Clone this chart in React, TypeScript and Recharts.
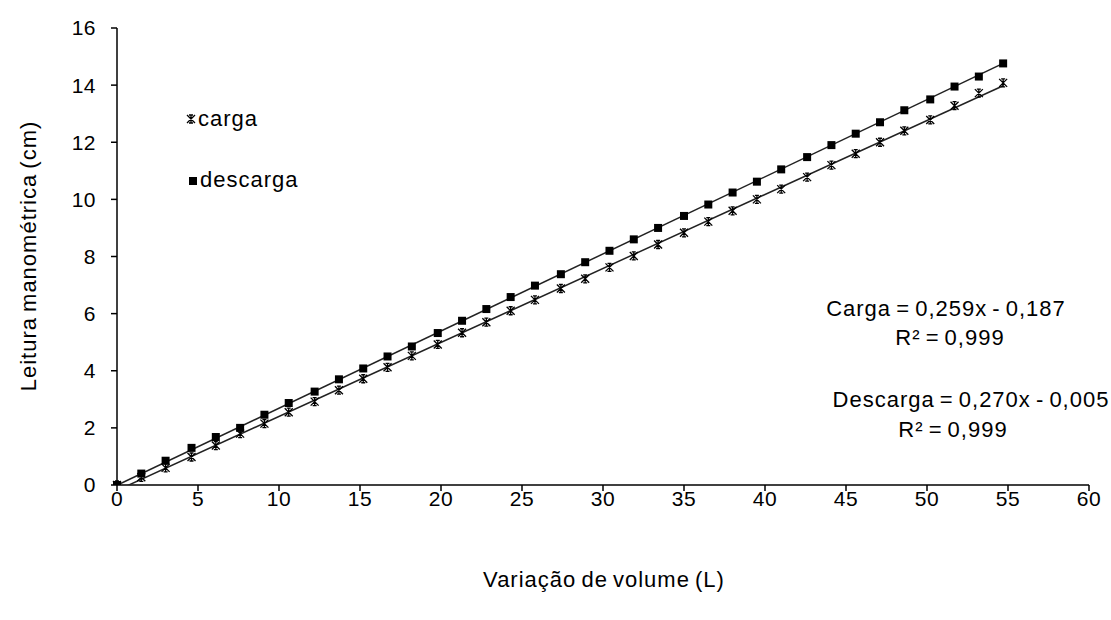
import { ComposedChart, Scatter, XAxis, YAxis } from 'recharts';

// Variação de volume (L)
const volume = [
  0, 1.5, 3.0, 4.6, 6.1, 7.6, 9.1, 10.6, 12.2, 13.7, 15.2, 16.7, 18.2, 19.8,
  21.3, 22.8, 24.3, 25.8, 27.4, 28.9, 30.4, 31.9, 33.4, 35.0, 36.5, 38.0, 39.5,
  41.0, 42.6, 44.1, 45.6, 47.1, 48.6, 50.2, 51.7, 53.2, 54.7,
];
// Leitura manométrica (cm)
const carga = [
  0, 0.27, 0.6, 0.98, 1.38, 1.8, 2.15, 2.55, 2.92, 3.32, 3.72, 4.12, 4.52, 4.92,
  5.33, 5.7, 6.1, 6.48, 6.88, 7.22, 7.62, 8.02, 8.42, 8.83, 9.22, 9.6, 10.0,
  10.36, 10.78, 11.2, 11.6, 12.0, 12.4, 12.78, 13.28, 13.72, 14.08,
];
const descarga = [
  0, 0.4, 0.85, 1.3, 1.68, 2.0, 2.46, 2.87, 3.27, 3.7, 4.08, 4.5, 4.85, 5.32,
  5.75, 6.16, 6.58, 6.98, 7.38, 7.8, 8.2, 8.6, 9.0, 9.42, 9.82, 10.24, 10.62,
  11.05, 11.48, 11.9, 12.3, 12.7, 13.12, 13.5, 13.95, 14.3, 14.76,
];
// trend line end points
const trendVolume = [0, 54.7];
const cargaTrend = [-0.19, 13.98];
const descargaTrend = [-0.01, 14.76];

const xTicks = [0, 5, 10, 15, 20, 25, 30, 35, 40, 45, 50, 55, 60];
const yTicks = [0, 2, 4, 6, 8, 10, 12, 14, 16];

const cargaData = volume.map((v, i) => ({ x: v, y: carga[i] }));
const descargaData = volume.map((v, i) => ({ x: v, y: descarga[i] }));
const cargaTrendData = trendVolume.map((v, i) => ({ x: v, y: cargaTrend[i] }));
const descargaTrendData = trendVolume.map((v, i) => ({ x: v, y: descargaTrend[i] }));

const font = '"Liberation Sans", Arial, sans-serif';

function Star(props: any) {
  const { cx, cy } = props;
  const r = 4;
  return (
    <path
      d={`M${cx - r},${cy - r}L${cx + r},${cy + r}M${cx + r},${cy - r}L${cx - r},${cy + r}M${cx},${cy - r}L${cx},${cy + r}M${cx - 2},${cy - r}L${cx + 2},${cy - r}M${cx - 2},${cy + r}L${cx + 2},${cy + r}`}
      stroke="#000"
      strokeWidth={1.3}
      fill="none"
    />
  );
}

function Square(props: any) {
  const { cx, cy } = props;
  return <rect x={cx - 4} y={cy - 4} width={8} height={8} fill="#000" />;
}

const noShape = () => <g />;

const textStyle: React.CSSProperties = {
  position: 'absolute',
  fontFamily: font,
  fontSize: 22,
  letterSpacing: '1px',
  wordSpacing: '-2px',
  color: '#000',
  whiteSpace: 'nowrap',
  lineHeight: '24px',
};

const tickStyle = { fill: '#000', fontSize: 21, fontFamily: font, letterSpacing: '0.5px' };

export default function App() {
  return (
    <div style={{ position: 'absolute', left: 0, top: 0, width: 1111, height: 620, background: '#fff' }}>
      <ComposedChart
        width={1111}
        height={620}
        margin={{ top: 28, right: 22, bottom: 105, left: 57 }}
      >
        <XAxis
          type="number"
          dataKey="x"
          domain={[0, 60]}
          ticks={xTicks}
          height={30}
          tickSize={6}
          tickMargin={0}
          stroke="#000"
          axisLine={{ stroke: '#000', strokeWidth: 1.5 }}
          tickLine={{ stroke: '#000', strokeWidth: 1.5 }}
          tick={tickStyle}
        />
        <YAxis
          type="number"
          dataKey="y"
          domain={[0, 16]}
          ticks={yTicks}
          allowDataOverflow
          width={60}
          tickSize={6}
          tickMargin={15}
          stroke="#000"
          axisLine={{ stroke: '#000', strokeWidth: 1.5 }}
          tickLine={{ stroke: '#000', strokeWidth: 1.5 }}
          tick={tickStyle}
        />
        <Scatter
          data={cargaTrendData}
          line={{ stroke: '#222', strokeWidth: 1.5 }}
          shape={noShape}
          isAnimationActive={false}
        />
        <Scatter
          data={descargaTrendData}
          line={{ stroke: '#222', strokeWidth: 1.5 }}
          shape={noShape}
          isAnimationActive={false}
        />
        <Scatter data={cargaData} shape={Star} isAnimationActive={false} />
        <Scatter data={descargaData} shape={Square} isAnimationActive={false} />
      </ComposedChart>

      <div
        style={{
          ...textStyle,
          left: 29,
          top: 256,
          transform: 'translate(-50%, -50%) rotate(-90deg)',
        }}
      >
        Leitura manométrica (cm)
      </div>
      <div style={{ ...textStyle, left: 604, top: 580, transform: 'translate(-50%, -50%)' }}>
        Variação de volume (L)
      </div>

      <svg style={{ position: 'absolute', left: 0, top: 0 }} width={200} height={200}>
        <Star cx={191} cy={119} />
        <Square cx={193} cy={181} />
      </svg>
      <div style={{ ...textStyle, left: 198, top: 107 }}>carga</div>
      <div style={{ ...textStyle, left: 200, top: 168 }}>descarga</div>

      <div style={{ ...textStyle, left: 946, top: 309, transform: 'translate(-50%, -50%)' }}>
        Carga = 0,259x - 0,187
      </div>
      <div style={{ ...textStyle, left: 950, top: 338, transform: 'translate(-50%, -50%)' }}>
        R² = 0,999
      </div>
      <div style={{ ...textStyle, left: 971, top: 400, transform: 'translate(-50%, -50%)' }}>
        Descarga = 0,270x -  0,005
      </div>
      <div style={{ ...textStyle, left: 953, top: 430, transform: 'translate(-50%, -50%)' }}>
        R² = 0,999
      </div>
    </div>
  );
}
